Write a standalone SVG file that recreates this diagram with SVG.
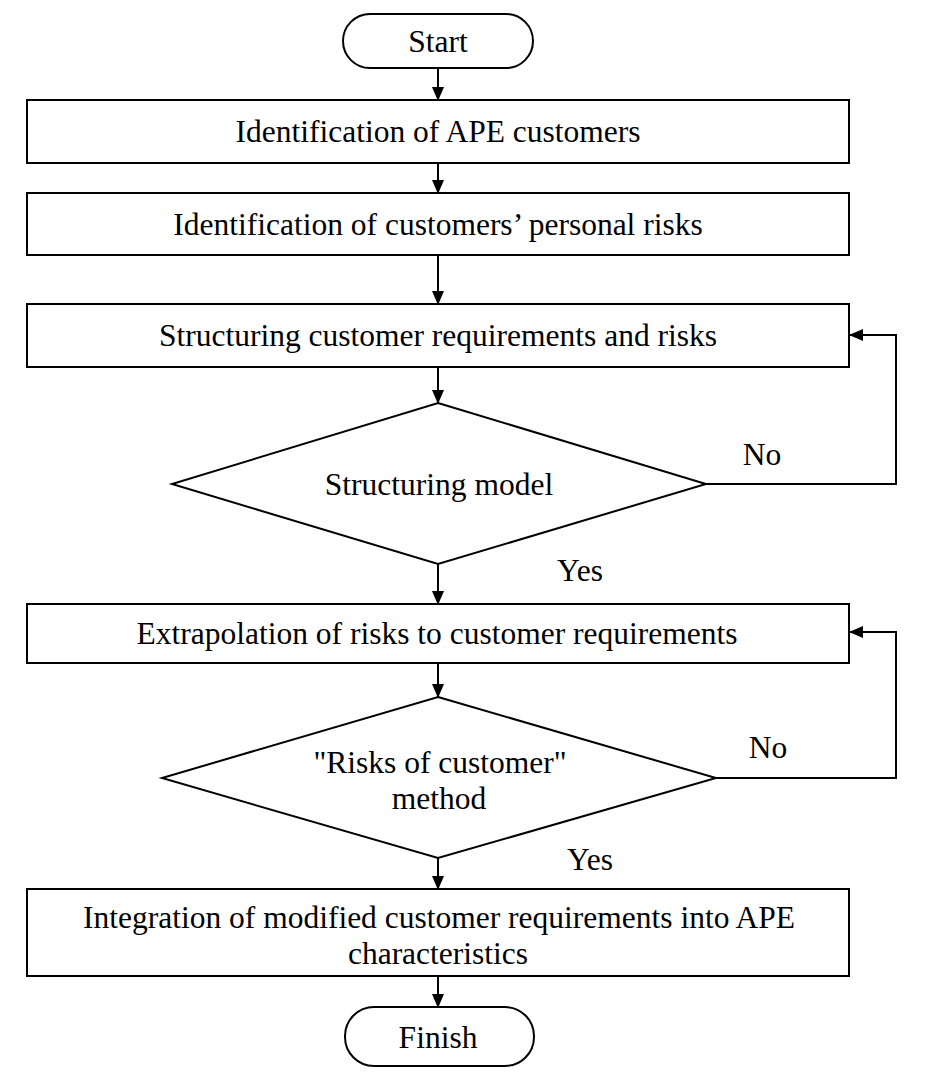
<svg xmlns="http://www.w3.org/2000/svg" width="926" height="1082" viewBox="0 0 926 1082">
<style>
.s{fill:#fff;stroke:#000;stroke-width:2}
.t{font-family:"Liberation Serif","Times New Roman",serif;font-size:31.5px;fill:#000;text-anchor:middle}
.c{fill:none;stroke:#000;stroke-width:2}
</style>
<defs>
<marker id="a" markerWidth="14" markerHeight="12" refX="13" refY="6" orient="auto" markerUnits="userSpaceOnUse">
<path d="M0,0 L14,6 L0,12 Z" fill="#000"/>
</marker>
</defs>
<rect width="926" height="1082" fill="#fff"/>
<g id="connectors">
<line class="c" x1="438" y1="68" x2="438" y2="100" marker-end="url(#a)"/>
<line class="c" x1="438" y1="163" x2="438" y2="193" marker-end="url(#a)"/>
<line class="c" x1="438" y1="255" x2="438" y2="304" marker-end="url(#a)"/>
<line class="c" x1="438" y1="367" x2="438" y2="403" marker-end="url(#a)"/>
<line class="c" x1="438" y1="564" x2="438" y2="604" marker-end="url(#a)"/>
<line class="c" x1="438" y1="663" x2="438" y2="697" marker-end="url(#a)"/>
<line class="c" x1="438" y1="858" x2="438" y2="889" marker-end="url(#a)"/>
<line class="c" x1="438" y1="976" x2="438" y2="1007" marker-end="url(#a)"/>
<polyline class="c" points="706,484 896,484 896,335 850,335" marker-end="url(#a)"/>
<polyline class="c" points="716,778 896,778 896,632 850,632" marker-end="url(#a)"/>
<text class="t" x="762" y="465">No</text>
<text class="t" x="580" y="581">Yes</text>
<text class="t" x="768" y="758">No</text>
<text class="t" x="590" y="870">Yes</text>
</g>
<g id="start">
<rect class="s" x="343" y="14" width="190" height="54" rx="27"/>
<text class="t" x="438" y="52">Start</text>
</g>
<g id="box1">
<rect class="s" x="27" y="100" width="822" height="63"/>
<text class="t" x="438" y="142">Identification of APE customers</text>
</g>
<g id="box2">
<rect class="s" x="27" y="193" width="822" height="62"/>
<text class="t" x="438" y="235">Identification of customers’ personal risks</text>
</g>
<g id="box3">
<rect class="s" x="27" y="304" width="822" height="63"/>
<text class="t" x="438" y="346">Structuring customer requirements and risks</text>
</g>
<g id="decision1">
<polygon class="s" points="438,403 706,484 438,564 172,484"/>
<text class="t" x="439" y="495">Structuring model</text>
</g>
<g id="box4">
<rect class="s" x="27" y="604" width="822" height="59"/>
<text class="t" x="437" y="644">Extrapolation of risks to customer requirements</text>
</g>
<g id="decision2">
<polygon class="s" points="438,697 716,778 438,858 162,778"/>
<text class="t" x="440" y="773">"Risks of customer"</text>
<text class="t" x="439" y="809">method</text>
</g>
<g id="box5">
<rect class="s" x="27" y="889" width="822" height="87"/>
<text class="t" x="439" y="928">Integration of modified customer requirements into APE</text>
<text class="t" x="438" y="964">characteristics</text>
</g>
<g id="finish">
<rect class="s" x="345" y="1007" width="189" height="59" rx="29"/>
<text class="t" x="438" y="1048">Finish</text>
</g>
</svg>
